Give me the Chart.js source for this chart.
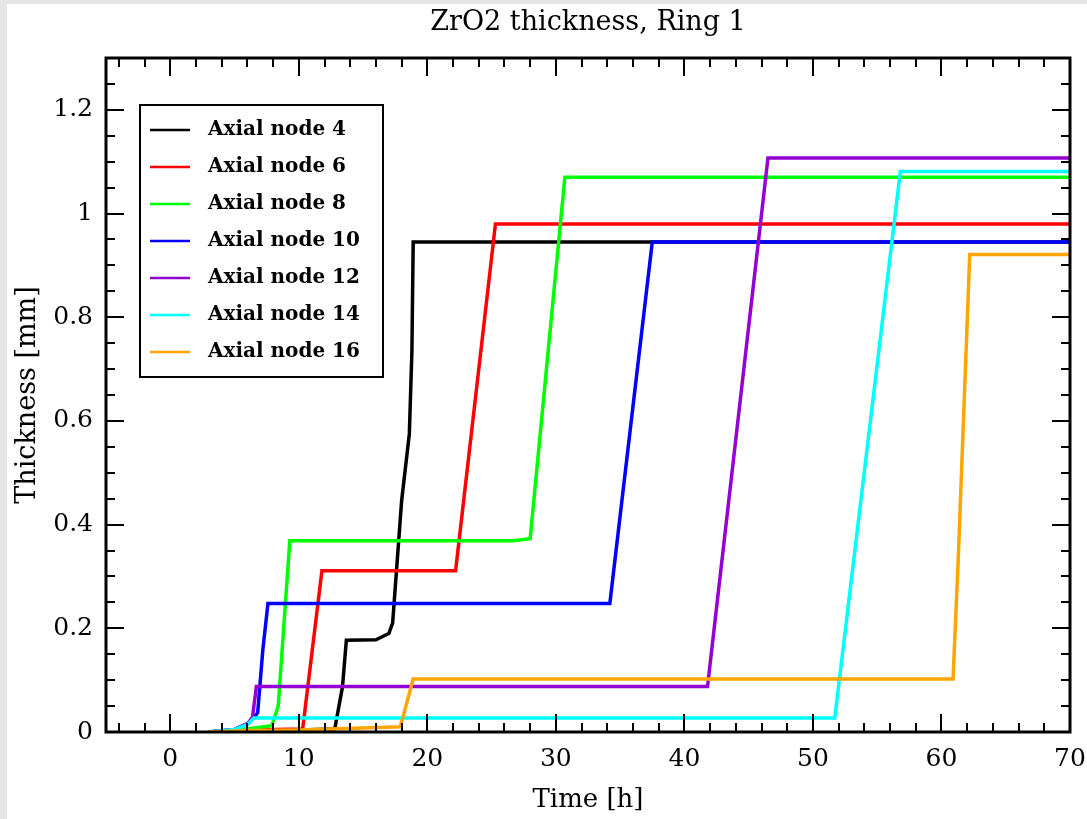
<!DOCTYPE html>
<html>
<head>
<meta charset="utf-8">
<script src="https://cdn.jsdelivr.net/npm/chart.js@4/dist/chart.umd.min.js"></script>
<style>
  html, body { margin: 0; padding: 0; background: #e5e5e5; }
  #wrap { position: absolute; left: 7px; top: 4px; width: 1080px; height: 815px; background: #fff; }
</style>
</head>
<body>
<div id="wrap"><canvas id="myChart" width="1080" height="815"></canvas></div>
<script>
// time [h] / thickness [mm]
const node4T = [3, 6, 10, 12.8, 13.4, 13.7, 16.0, 17.0, 17.3, 18.0, 18.6, 18.8, 18.9, 70];
const node4V = [0, 0.004, 0.004, 0.006, 0.087, 0.177, 0.178, 0.19, 0.21, 0.446, 0.575, 0.735, 0.945, 0.945];
const node6T = [3, 6, 10.3, 11.8, 22.2, 25.3, 70];
const node6V = [0, 0.004, 0.006, 0.311, 0.311, 0.98, 0.98];
const node8T = [3, 6, 7.9, 8.4, 9.3, 26.7, 28.0, 30.7, 70];
const node8V = [0, 0.006, 0.012, 0.05, 0.369, 0.369, 0.373, 1.07, 1.07];
const node10T = [3, 5, 6.1, 6.8, 7.2, 7.6, 34.2, 37.5, 70];
const node10V = [0, 0.005, 0.017, 0.037, 0.158, 0.248, 0.248, 0.945, 0.945];
const node12T = [3, 5, 6.0, 6.4, 6.7, 41.8, 46.5, 70];
const node12V = [0, 0.005, 0.015, 0.029, 0.088, 0.088, 1.107, 1.107];
const node14T = [3, 5, 6.0, 6.5, 51.7, 56.8, 70];
const node14V = [0, 0.005, 0.014, 0.027, 0.027, 1.081, 1.081];
const node16T = [3, 6, 10, 17.9, 18.9, 60.9, 61.3, 62.2, 70];
const node16V = [0, 0.003, 0.004, 0.01, 0.102, 0.102, 0.33, 0.921, 0.921];

const seriesNames = ['Axial node 4', 'Axial node 6', 'Axial node 8', 'Axial node 10',
  'Axial node 12', 'Axial node 14', 'Axial node 16'];
const seriesColors = ['#000000', '#ff0000', '#00ff00', '#0000ff', '#9400d3', '#00ffff', '#ffa500'];
const seriesT = [node4T, node6T, node8T, node10T, node12T, node14T, node16T];
const seriesV = [node4V, node6V, node8V, node10V, node12V, node14V, node16V];

const xTicks = [0, 10, 20, 30, 40, 50, 60, 70];
const yTicks = [0, 0.2, 0.4, 0.6, 0.8, 1, 1.2];
const yTickLabels = ['0', '0.2', '0.4', '0.6', '0.8', '1', '1.2'];

const serif = "'DejaVu Serif', serif";

const datasets = seriesNames.map((name, i) => ({
  label: name,
  data: seriesT[i].map((t, j) => ({ x: t, y: seriesV[i][j] })),
  borderColor: seriesColors[i],
  backgroundColor: seriesColors[i],
  borderWidth: 3.5,
  pointRadius: 0,
  tension: 0,
  order: seriesNames.length - i
}));

// frame, inward ticks on all four sides, boxed legend
const framePlugin = {
  id: 'frame',
  afterDraw(chart) {
    const ctx = chart.ctx;
    const ca = chart.chartArea;
    const xs = chart.scales.x, ys = chart.scales.y;
    ctx.save();
    ctx.strokeStyle = '#000';
    ctx.lineWidth = 2;
    ctx.beginPath();
    for (let v = -4; v <= 70; v += 2) {
      const px = Math.round(xs.getPixelForValue(v));
      const len = v % 10 === 0 ? 18 : 9;
      ctx.moveTo(px, ca.bottom); ctx.lineTo(px, ca.bottom - len);
      ctx.moveTo(px, ca.top); ctx.lineTo(px, ca.top + len);
    }
    for (let k = 1; k < 26; k++) {
      const py = Math.round(ys.getPixelForValue(k * 0.05));
      const len = k % 4 === 0 ? 18 : 9;
      ctx.moveTo(ca.left, py); ctx.lineTo(ca.left + len, py);
      ctx.moveTo(ca.right, py); ctx.lineTo(ca.right - len, py);
    }
    ctx.stroke();
    ctx.lineWidth = 3;
    ctx.strokeRect(ca.left, ca.top, ca.right - ca.left, ca.bottom - ca.top);

    const bx = ca.left + 34, by = ca.top + 47, bw = 243, bh = 272;
    ctx.fillStyle = '#fff';
    ctx.fillRect(bx, by, bw, bh);
    ctx.lineWidth = 2;
    ctx.strokeRect(bx, by, bw, bh);
    ctx.font = "bold 20px 'DejaVu Serif', serif";
    ctx.textBaseline = 'middle';
    ctx.textAlign = 'left';
    chart.data.datasets.forEach((ds, i) => {
      const y = by + 25 + i * 37;
      ctx.strokeStyle = ds.borderColor;
      ctx.lineWidth = 2.5;
      ctx.beginPath();
      ctx.moveTo(bx + 10, y); ctx.lineTo(bx + 50, y);
      ctx.stroke();
      ctx.fillStyle = '#000';
      ctx.fillText(ds.label, bx + 68, y);
    });
    ctx.restore();
  }
};

const ctx = document.getElementById('myChart').getContext('2d');

const config = {
  type: 'line',
  data: { datasets: datasets },
  options: {
    responsive: false,
    animation: false,
    layout: { padding: { left: 0, right: 17, top: 0, bottom: 0 } },
    plugins: {
      legend: { display: false },
      tooltip: { enabled: false },
      title: {
        display: true,
        fullSize: false,
        text: 'ZrO2 thickness, Ring 1',
        color: '#000',
        font: { family: serif, size: 27, weight: 'normal' },
        padding: { top: 2.5, bottom: 19.1 }
      }
    },
    scales: {
      x: {
        type: 'linear',
        position: 'bottom',
        min: -5,
        max: 70,
        afterBuildTicks: (s) => { s.ticks = xTicks.map(v => ({ value: v })); },
        afterFit: (s) => { s.height = 87; s.paddingLeft = 0; s.paddingRight = 0; },
        grid: { display: false, drawTicks: false },
        border: { display: false },
        ticks: {
          color: '#000',
          padding: 12,
          maxRotation: 0,
          autoSkip: false,
          font: { family: serif, size: 25 },
          callback: (v) => String(v)
        },
        title: {
          display: true,
          text: 'Time [h]',
          color: '#000',
          font: { family: serif, size: 26 },
          padding: { top: 0, bottom: 3 }
        }
      },
      y: {
        type: 'linear',
        min: 0,
        max: 1.3,
        afterBuildTicks: (s) => { s.ticks = yTicks.map(v => ({ value: v })); },
        afterFit: (s) => { s.width = 99; s.paddingTop = 0; s.paddingBottom = 0; },
        grid: { display: false, drawTicks: false },
        border: { display: false },
        ticks: {
          color: '#000',
          padding: 13,
          autoSkip: false,
          font: { family: serif, size: 25 },
          callback: (v) => yTickLabels[yTicks.findIndex(t => Math.abs(t - v) < 1e-9)]
        },
        title: {
          display: true,
          text: 'Thickness [mm]',
          color: '#000',
          font: { family: serif, size: 27 },
          padding: { top: 5, bottom: 0 }
        }
      }
    }
  },
  plugins: [framePlugin]
};

const myChart = new Chart(ctx, config);
</script>
</body>
</html>
